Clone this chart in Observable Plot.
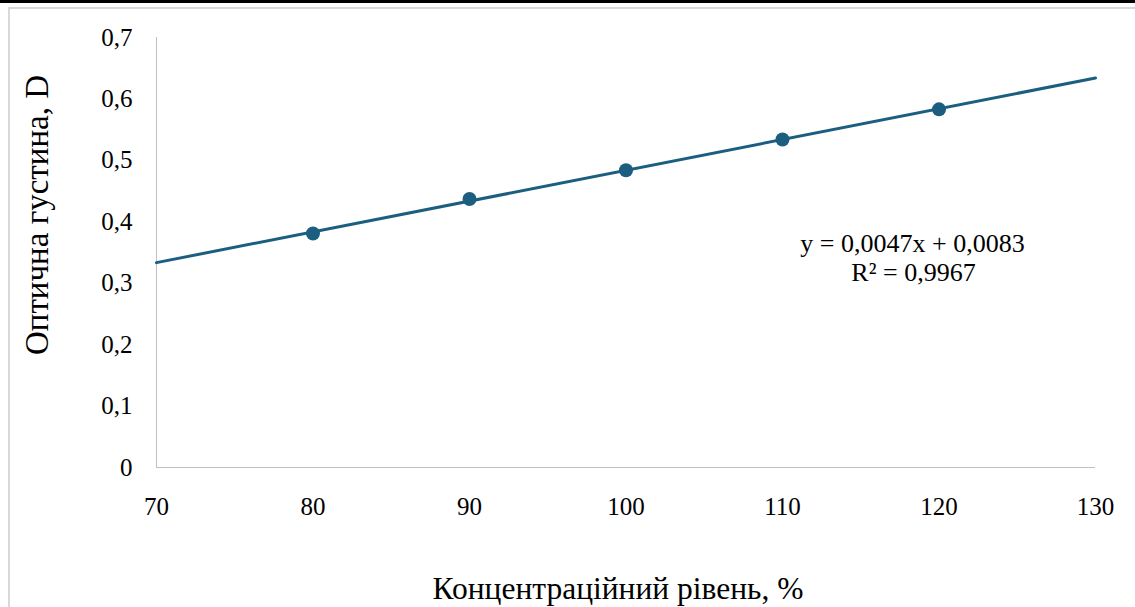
<!DOCTYPE html>
<html>
<head>
<meta charset="utf-8">
<script src="https://cdn.jsdelivr.net/npm/d3@7"></script>
<script src="https://cdn.jsdelivr.net/npm/@observablehq/plot@0.6"></script>
<style>
  html, body { margin: 0; padding: 0; background: #fff; }
  #wrap { position: relative; width: 1135px; height: 607px; overflow: hidden; background: #fff; }
  .topbar { position: absolute; left: 0; top: 0; width: 1135px; height: 3px; background: #000; }
  .hline { position: absolute; left: 8px; top: 7px; width: 1127px; height: 2px; background: #d9d9d9; }
  .vline { position: absolute; left: 8px; top: 7px; width: 2px; height: 600px; background: #d9d9d9; }
  #chart { position: absolute; left: 0; top: 0; }
  #ytitle { position: absolute; left: 37px; top: 215px; transform: translate(-50%, -50%) rotate(-90deg);
            white-space: nowrap; font-family: 'Liberation Serif', 'Times New Roman', serif; font-size: 33px; color: #000; line-height: 1; }
</style>
</head>
<body>
<div id="wrap">
  <div id="chart"></div>
  <div id="ytitle"></div>
  <div class="topbar"></div>
  <div class="hline"></div>
  <div class="vline"></div>
</div>
<script>
// Data
const concentration = [80, 90, 100, 110, 120];
const opticalDensity = [0.381, 0.437, 0.484, 0.534, 0.583];
const xTicks = [70, 80, 90, 100, 110, 120, 130];
const yTicks = [0, 0.1, 0.2, 0.3, 0.4, 0.5, 0.6, 0.7];
const xTitle = "Концентраційний рівень, %";
const yTitle = "Оптична густина, D";
const equationLines = ["y = 0,0047x + 0,0083", "R² = 0,9967"];

const points = concentration.map((x, i) => ({x, y: opticalDensity[i]}));

// least-squares trend line over the full x domain
const mx = d3.mean(concentration), my = d3.mean(opticalDensity);
const slope = d3.sum(points, d => (d.x - mx) * (d.y - my)) / d3.sum(points, d => (d.x - mx) ** 2);
const intercept = my - slope * mx;
const xDomain = [xTicks[0], xTicks[xTicks.length - 1]];
const trend = xDomain.map(x => ({x, y: intercept + slope * x}));

const fmt = d => String(d).replace(".", ",");
const color = "#1b5e80";
const font = "'Liberation Serif', 'Times New Roman', serif";

document.getElementById("ytitle").textContent = yTitle;

const chart = Plot.plot({
  width: 1135,
  height: 607,
  marginLeft: 156,
  marginRight: 40,
  marginTop: 37,
  marginBottom: 140,
  style: {fontFamily: font, background: "transparent", color: "#000"},
  x: {domain: xDomain, ticks: xTicks},
  y: {domain: [0, 0.7], ticks: yTicks},
  marks: [
    Plot.ruleY([0], {stroke: "#c0c0c0", strokeWidth: 1}),
    Plot.ruleX([xDomain[0]], {stroke: "#c0c0c0", strokeWidth: 1}),
    Plot.axisX(xTicks, {tickSize: 0, tickPadding: 30, tickFormat: fmt, fontSize: 25, label: null}),
    Plot.axisY(yTicks, {tickSize: 0, tickPadding: 24, tickFormat: fmt, fontSize: 25, label: null}),
    Plot.line(trend, {x: "x", y: "y", stroke: color, strokeWidth: 3}),
    Plot.dot(points, {x: "x", y: "y", r: 7, fill: color, stroke: "none"}),
    Plot.text([xTitle], {frameAnchor: "bottom", lineAnchor: "middle", dx: -8, dy: 121, fontSize: 31.5, fill: "#000"}),
    Plot.text([equationLines[0]], {frameAnchor: "top-left", lineAnchor: "middle", dx: 756, dy: 206, textAnchor: "middle", fontSize: 26, fill: "#000"}),
    Plot.text([equationLines[1]], {frameAnchor: "top-left", lineAnchor: "middle", dx: 757, dy: 235, textAnchor: "middle", fontSize: 26, fill: "#000"})
  ]
});
document.getElementById("chart").appendChild(chart);
</script>
</body>
</html>
